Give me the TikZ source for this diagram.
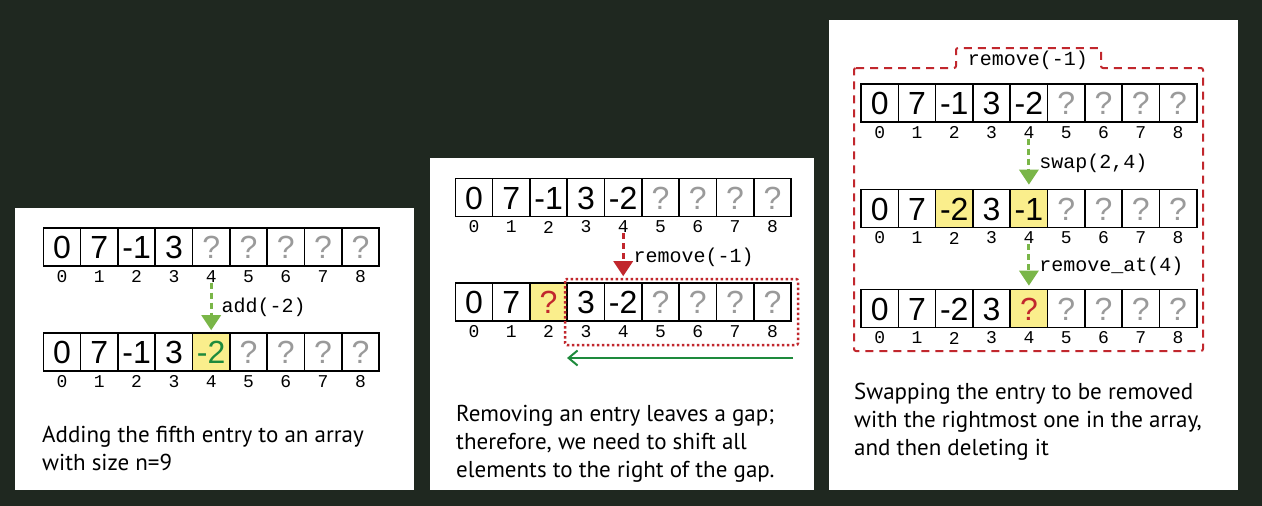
\documentclass[tikz,border=0pt]{standalone}
\usepackage{fontspec}
\setmonofont{Liberation Mono}
\newfontfamily\cellfont{Liberation Sans}
\newfontfamily\capfont{PT Sans}
\usetikzlibrary{arrows.meta}
\definecolor{bgdark}{HTML}{1F2820}
\definecolor{hlyellow}{HTML}{FAEE8C}
\definecolor{lightgreen}{HTML}{7AB648}
\definecolor{darkgreen}{HTML}{1E8A3C}
\definecolor{darkred}{HTML}{C1272D}
\definecolor{qgrey}{HTML}{9A9A9A}
\tikzset{
  cellbox/.style={draw, line width=1.6pt, minimum width=37.3pt, minimum height=38pt,
    inner sep=0pt, font=\cellfont\fontsize{32}{32}\selectfont, text height=23pt, text depth=0pt},
  val/.style={},
  unk/.style={text=qgrey},
  newval/.style={fill=hlyellow, text=darkgreen},
  hole/.style={fill=hlyellow, text=darkred},
  swapped/.style={fill=hlyellow},
  idx/.style={font=\ttfamily\fontsize{18}{18}\selectfont, inner sep=0pt},
  lbl/.style={font=\ttfamily\fontsize{20}{20}\selectfont, inner sep=0pt, text=black},
  greenarrow/.style={lightgreen, line width=3pt, dash pattern=on 6pt off 4pt,
    -{Triangle[width=19pt,length=15pt]}},
  redarrow/.style={darkred, line width=3pt, dash pattern=on 6pt off 4pt,
    -{Triangle[width=19pt,length=15pt]}},
  shiftarrow/.style={darkgreen, line width=2pt, -{Straight Barb[length=9pt,width=15pt]}},
  dotbox/.style={darkred, line width=2.5pt, dash pattern=on 2.5pt off 2.5pt, rounded corners=2pt},
  framedash/.style={darkred, line width=2pt, dash pattern=on 8pt off 6pt, rounded corners=2pt},
  caption/.style={font=\capfont\fontsize{23}{28}\selectfont, align=left, anchor=north west, inner sep=0pt},
}
% one array of 9 cells with its indices below
\newcommand{\cellrow}[4]{%
  \foreach \v/\s [count=\k from 0] in {#4}
    \node[cellbox,\s] (#1-\k) at ({#2+37.3*\k},#3) {\v};
  \foreach \k in {0,...,8}
    \node[idx] (#1-i\k) at ({#2+37.3*\k},{#3+29.5}) {\k};
}
\begin{document}
\begin{tikzpicture}[x=1pt,y=-1pt]
\useasboundingbox (0,0) rectangle (1262,506);
\fill[bgdark] (0,0) rectangle (1262,506);
\fill[white] (15,208) rectangle (414,490);
\fill[white] (430,158) rectangle (814,490);
\fill[white] (829,20) rectangle (1238,490);

%% adding
\cellrow{a1}{62}{247}{0/val,7/val,-1/val,3/val,?/unk,?/unk,?/unk,?/unk,?/unk}
\cellrow{a2}{62}{352}{0/val,7/val,-1/val,3/val,-2/newval,?/unk,?/unk,?/unk,?/unk}
\draw[greenarrow, shorten >=2pt] (a1-i4.south) -- node[lbl, right=9pt] {add(-2)} (a2-4.north);
\node[caption] (capA) at (42,426) {Adding the fifth entry to an array\\with size n=9};

%% removing with shift
\cellrow{b1}{474}{197.5}{0/val,7/val,-1/val,3/val,-2/val,?/unk,?/unk,?/unk,?/unk}
\cellrow{b2}{474}{302}{0/val,7/val,?/hole,3/val,-2/val,?/unk,?/unk,?/unk,?/unk}
\draw[redarrow, shorten >=6pt] (b1-i4.south) -- node[lbl, right=9pt] {remove(-1)} (b2-4.north);
\draw[dotbox] (565,279) rectangle (798,345);
\coordinate (shiftR) at (793,358);
\coordinate (shiftL) at (567,358);
\draw[shiftarrow] (shiftR) -- (shiftL);
\node[caption] (capB) at (456,405) {Removing an entry leaves a gap;\\therefore, we need to shift all\\elements to the right of the gap.};

%% removing with swap
\draw[framedash] (854,68) -- (956,68) -- (956,48) -- (1101,48) -- (1101,68) -- (1203,68)
  -- (1203,351) -- (854,351) -- cycle;
\node[lbl] (rmlbl) at (1028,60) {remove(-1)};
\cellrow{c1}{879.7}{103}{0/val,7/val,-1/val,3/val,-2/val,?/unk,?/unk,?/unk,?/unk}
\cellrow{c2}{879.7}{208.5}{0/val,7/val,-2/swapped,3/val,-1/swapped,?/unk,?/unk,?/unk,?/unk}
\cellrow{c3}{879.7}{308.5}{0/val,7/val,-2/val,3/val,?/hole,?/unk,?/unk,?/unk,?/unk}
\draw[greenarrow, shorten >=4pt] (c1-i4.south) -- node[lbl, right=9pt] {swap(2,4)} (c2-4.north);
\draw[greenarrow, shorten >=3pt] (c2-i4.south) -- node[lbl, right=9pt] {remove\_at(4)} (c3-4.north);
\node[caption] (capC) at (854,383) {Swapping the entry to be removed\\with the rightmost one in the array,\\and then deleting it};
\end{tikzpicture}
\end{document}
